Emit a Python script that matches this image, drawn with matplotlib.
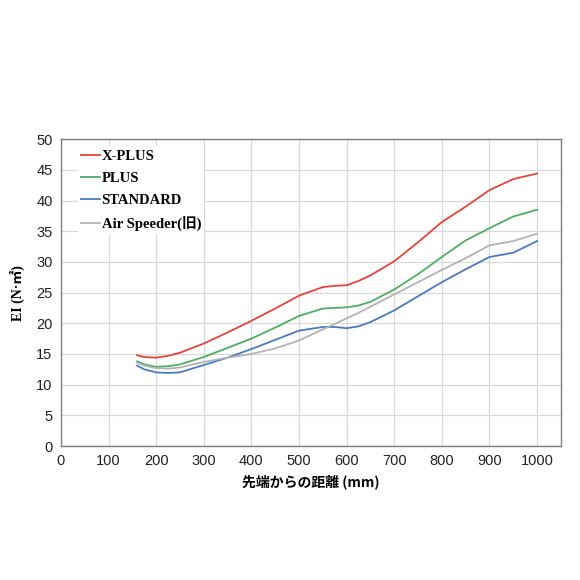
import numpy as np
import matplotlib.pyplot as plt

# distance from tip (mm)
dist = [160, 175, 200, 225, 250, 300, 350, 400, 450, 500, 550, 575, 600, 625, 650, 700, 750, 800, 850, 900, 950, 1000]

x_plus = [14.8, 14.5, 14.4, 14.7, 15.2, 16.7, 18.5, 20.4, 22.4, 24.5, 25.9, 26.1, 26.2, 26.9, 27.8, 30.1, 33.2, 36.5, 39.0, 41.7, 43.5, 44.4]
plus = [13.8, 13.3, 12.9, 13.0, 13.3, 14.5, 16.0, 17.5, 19.3, 21.2, 22.4, 22.5, 22.6, 22.9, 23.5, 25.5, 28.0, 30.8, 33.5, 35.5, 37.4, 38.5]
standard = [13.1, 12.5, 12.0, 11.9, 12.0, 13.2, 14.4, 15.8, 17.3, 18.8, 19.4, 19.4, 19.2, 19.5, 20.2, 22.1, 24.4, 26.7, 28.8, 30.8, 31.5, 33.4]
air_speeder = [13.6, 13.1, 12.7, 12.6, 12.8, 13.7, 14.4, 15.0, 15.9, 17.2, 19.0, 19.9, 20.8, 21.7, 22.7, 24.7, 26.7, 28.7, 30.6, 32.7, 33.4, 34.6]

series = [
    ('X-PLUS', x_plus, '#e5443a'),
    ('PLUS', plus, '#4caf62'),
    ('STANDARD', standard, '#4a7bc2'),
    ('Air Speeder(旧)', air_speeder, '#b3b3b3'),
]

serif = ['Liberation Serif', 'Noto Sans CJK JP']

fig = plt.figure(figsize=(5.8, 5.8), dpi=100)
ax = fig.add_axes([0.105, 0.231, 0.862, 0.529])

for name, vals, col in series:
    ax.plot(dist, vals, color=col, lw=1.3, label=name)

ax.set_xlim(0, 1050)
ax.set_ylim(0, 50)
ax.set_xticks(np.arange(0, 1001, 100))
ax.set_yticks(np.arange(0, 51, 5))
ax.grid(True, color='#d9d9d9', lw=0.9)
ax.set_axisbelow(True)
ax.tick_params(length=0, labelsize=10.5, pad=6)
for lab in ax.get_xticklabels() + ax.get_yticklabels():
    lab.set_family('Liberation Sans')
    lab.set_color('#222222')
for s in ax.spines.values():
    s.set_color('#7f7f7f')
    s.set_linewidth(1.0)

ax.set_ylabel('EI (N·㎡)', family=serif, fontweight='bold', fontsize=10, labelpad=8)
ax.set_xlabel('先端からの距離 (mm)', family=['Noto Sans CJK JP'], fontweight='bold',
              fontsize=10, labelpad=4)

leg = ax.legend(loc='upper left', bbox_to_anchor=(0.02, 1.0), frameon=True,
                prop={'family': serif, 'size': 10.5, 'weight': 'bold'},
                handlelength=1.3, handletextpad=0.1,
                labelspacing=0.62, borderpad=0.2)
leg.get_frame().set_edgecolor('none')
leg.get_frame().set_facecolor('white')
leg.get_frame().set_alpha(1)

fig.savefig('out.png', dpi=100, facecolor='white')
